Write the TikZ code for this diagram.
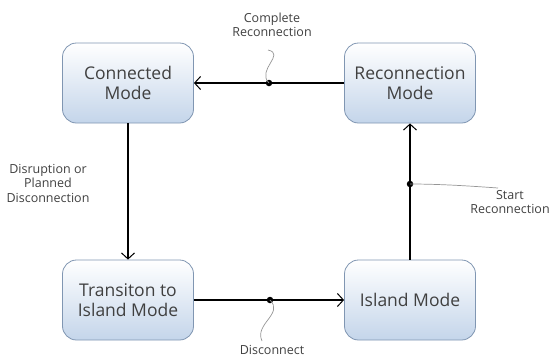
\documentclass[tikz,border=0pt]{standalone}
\usepackage{fontspec}
\setmainfont{Open Sans}
\usetikzlibrary{arrows.meta}

\definecolor{modeline}{RGB}{128,150,178}
\definecolor{modefill}{RGB}{196,213,234}
\definecolor{hookgray}{RGB}{150,150,150}
\definecolor{textgray}{RGB}{64,64,64}

\begin{document}
\begin{tikzpicture}[x=1pt, y=-1pt,
  mode/.style={draw=modeline, line width=0.8pt, rounded corners=14pt,
    minimum width=131pt, minimum height=80pt, top color=white,
    bottom color=modefill, align=center, text=textgray,
    font=\fontsize{17.5}{20}\selectfont},
  trans/.style={line width=1.6pt, -{Straight Barb[length=6pt,width=13pt,line width=1pt]}},
  event/.style={align=center, text=textgray, font=\fontsize{12.5}{14.5}\selectfont},
  knot/.style={circle, fill=black, inner sep=0pt, minimum size=6.5pt},
  hook/.style={draw=hookgray, line width=0.7pt}]

\useasboundingbox (0,0) rectangle (554,360);

\node[mode] (CM) at (128,83) {Connected\\Mode};
\node[mode] (RM) at (410,83) {Reconnection\\Mode};
\node[mode] (TM) at (128,300) {Transiton to\\Island Mode};
\node[mode] (IM) at (410,300) {Island Mode};

\draw[trans] (RM) -- (CM);
\draw[trans] (CM) -- (TM);
\draw[trans] (TM) -- (IM);
\draw[trans] (IM) -- (RM);

\node[knot] (k1) at (269,83) {};
\node[knot] (k2) at (270,300) {};
\node[knot] (k3) at (410,184) {};

\node[event] (e1) at (272,25) {Complete\\Reconnection};
\node[event] (e2) at (48,183) {Disruption or\\Planned\\Disconnection};
\node[event] (e3) at (272,350) {Disconnect};
\node[event] (e4) at (510,202) {Start\\Reconnection};

\coordinate (h1) at (268,50);
\coordinate (h2) at (262,341);
\coordinate (h3) at (498,188);

\draw[hook] (k1.center) .. controls (256,70) and (286,54) .. (h1);
\draw[hook] (k2.center) .. controls (284,314) and (254,324) .. (h2);
\draw[hook] (k3.center) .. controls (440,184) and (470,186) .. (h3);

\end{tikzpicture}
\end{document}
